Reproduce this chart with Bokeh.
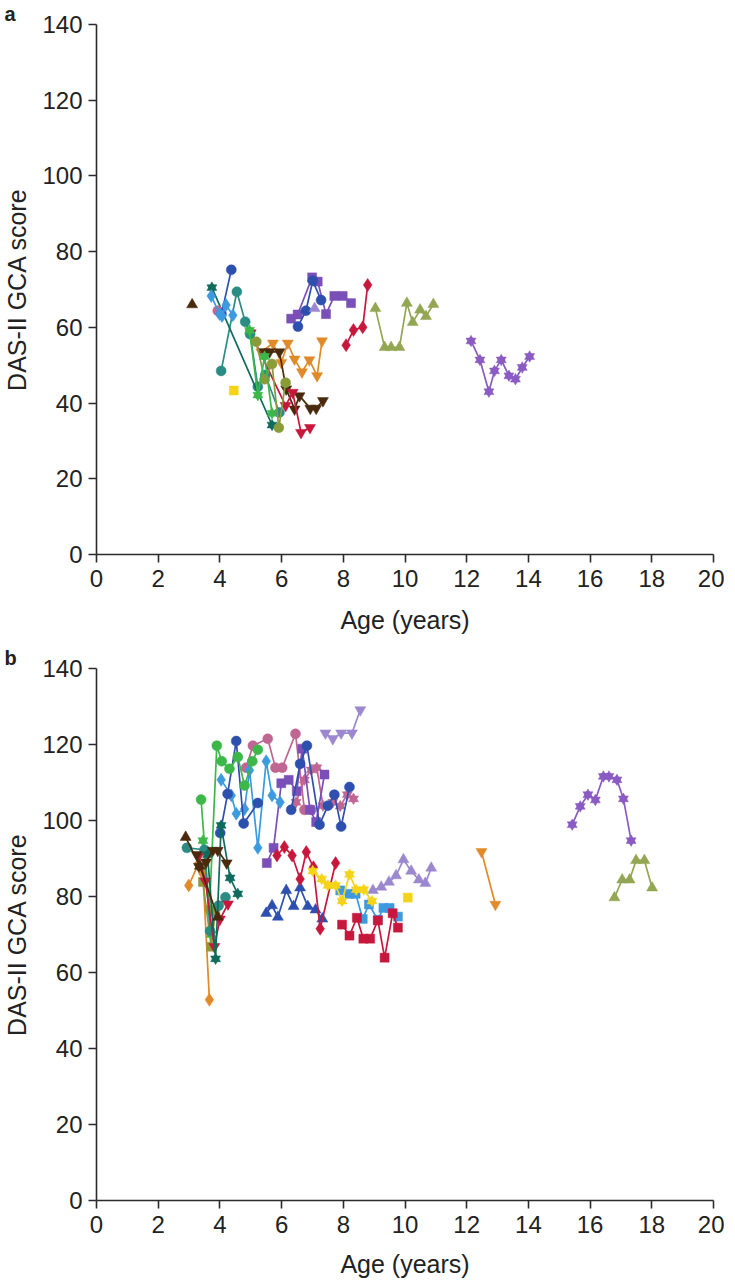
from bokeh.plotting import figure
from bokeh.layouts import column
from bokeh.models import Range1d, FixedTicker, Title
from bokeh.embed import file_html
from bokeh.resources import INLINE

# ---------------- colours ----------------
CRIMSON = "#c8173c"
PURPLE = "#7a4fb8"
LAVENDER = "#9c88cf"
DBLUE = "#2d4fae"
LBLUE = "#3d9ade"
TEAL = "#2b8c84"
DTEAL = "#0f6b5c"
GREEN = "#3cb84a"
OLIVE = "#8a9b3a"
OLIVE_TRI = "#93a653"
ORANGE = "#e08a2a"
BROWN = "#4a2a0c"
YELLOW = "#f4d418"
MAUVE = "#bf6792"
PSTAR = "#8a5bc2"

X_TICKS = [0, 2, 4, 6, 8, 10, 12, 14, 16, 18, 20]
Y_TICKS = [0, 20, 40, 60, 80, 100, 120, 140]
X_LABEL = "Age (years)"
Y_LABEL = "DAS-II GCA score"
PANEL_LETTERS = ["a", "b"]

# ---------------- panel a data ----------------
a_brown_tri_x = [3.1]
a_brown_tri_y = [66]
a_yellow_sq_x = [4.45]
a_yellow_sq_y = [43.3]
a_lblue_dia_x = [3.72, 3.99, 4.07, 4.2, 4.42]
a_lblue_dia_y = [68.3, 63.5, 63.0, 65.9, 63.2]
a_mauve_circ_x = [3.93]
a_mauve_circ_y = [64.4]
a_dblue_circ1_x = [4.05, 4.37]
a_dblue_circ1_y = [63.5, 75.2]
a_dblue_circ2_x = [6.53, 6.79, 7.01, 7.28]
a_dblue_circ2_y = [60.2, 64.4, 72.3, 67.2]
a_teal_circ_x = [4.04, 4.55, 4.82, 4.98, 5.23, 5.47, 5.93]
a_teal_circ_y = [48.5, 69.4, 61.5, 58.2, 44.3, 47.4, 37.5]
a_dteal_star_x = [3.74, 5.69]
a_dteal_star_y = [70.5, 34.2]
a_olive_circ_x = [5.18, 5.45, 5.69, 5.91, 6.13]
a_olive_circ_y = [56.2, 46.3, 50.3, 33.5, 45.4]
a_green_star_x = [4.96, 5.23, 5.45, 5.69]
a_green_star_y = [59.2, 42.1, 52.3, 37.3]
a_crimson_itri_x = [5.0, 6.13, 6.36, 6.63, 6.92]
a_crimson_itri_y = [58.5, 39.3, 42.8, 32.2, 33.5]
a_orange_itri_x = [5.34, 5.72, 5.99, 6.2, 6.42, 6.66, 6.9, 7.15, 7.31]
a_orange_itri_y = [53.5, 55.8, 50.7, 55.8, 51.6, 48.2, 51.4, 47.2, 56.4]
a_brown_itri_x = [5.45, 5.61, 5.93, 6.15, 6.42, 6.58, 6.93, 7.12, 7.34]
a_brown_itri_y = [53.5, 53.5, 53.5, 43.7, 38.4, 41.9, 38.6, 38.6, 40.6]
a_purple_sq_x = [6.31, 6.52, 6.99, 7.17, 7.44, 7.71, 7.98, 8.25]
a_purple_sq_y = [62.3, 63.4, 73.2, 72.1, 63.5, 68.3, 68.3, 66.4]
a_lav_tri_x = [7.07]
a_lav_tri_y = [65]
a_crimson_dia_x = [8.09, 8.33, 8.63, 8.79]
a_crimson_dia_y = [55.3, 59.3, 60.0, 71.2]
a_olive_tri_x = [9.04, 9.34, 9.55, 9.82, 10.06, 10.25, 10.49, 10.68, 10.92]
a_olive_tri_y = [65, 54.7, 54.7, 54.7, 66.4, 61.3, 64.6, 62.9, 66.1]
a_pstar_x = [12.14, 12.43, 12.72, 12.9, 13.12, 13.37, 13.58, 13.8, 14.04]
a_pstar_y = [56.4, 51.4, 43.0, 48.5, 51.4, 47.2, 46.3, 49.4, 52.3]

# ---------------- panel b data ----------------
b_brown_tri_x = [2.89, 3.35, 3.93]
b_brown_tri_y = [95.6, 88.0, 74.6]
b_teal_circ_x = [2.93, 3.5, 3.68, 3.96, 4.18]
b_teal_circ_y = [92.8, 92.3, 70.9, 77.6, 79.8]
b_orange_dia_x = [2.99, 3.3, 3.45, 3.66]
b_orange_dia_y = [82.9, 88.5, 86.0, 52.8]
b_brown_itri_x = [3.25, 3.32, 3.55, 3.77, 3.93, 4.22]
b_brown_itri_y = [91.0, 87.9, 89.0, 92.1, 92.1, 88.8]
b_crimson_itri_x = [3.3, 3.53, 3.82, 4.0, 4.26]
b_crimson_itri_y = [90.5, 84.0, 66.8, 74.0, 78.0]
b_green_star_x = [3.45, 3.72]
b_green_star_y = [94.7, 70.0]
b_olive_sq_x = [3.45, 3.72, 3.85]
b_olive_sq_y = [83.8, 66.8, 76.0]
b_green_circ_x = [3.39, 3.66, 3.9, 4.06, 4.31, 4.58, 4.8, 5.05, 5.23]
b_green_circ_y = [105.5, 76.5, 119.7, 115.6, 113.6, 116.7, 109.2, 115.6, 118.6]
b_dteal_star_x = [3.6, 3.86, 4.04, 4.33, 4.58]
b_dteal_star_y = [91.0, 63.6, 98.7, 84.9, 80.7]
b_dblue_circ1_x = [4.01, 4.25, 4.53, 4.77, 5.23]
b_dblue_circ1_y = [96.7, 107.0, 120.9, 99.2, 104.6]
b_dblue_circ2_x = [6.31, 6.6, 6.82, 7.23, 7.5, 7.71, 7.93, 8.2]
b_dblue_circ2_y = [102.8, 114.9, 119.7, 98.9, 103.9, 106.8, 98.4, 108.8]
b_lblue_dia_x = [4.04, 4.37, 4.53, 4.8, 4.96, 5.23, 5.5, 5.69, 5.95]
b_lblue_dia_y = [110.7, 106.6, 101.8, 103.0, 113.2, 92.8, 115.6, 106.6, 104.8]
b_mauve_circ_x = [4.85, 5.07, 5.55, 5.8, 6.02, 6.45, 6.74, 6.96]
b_mauve_circ_y = [113.9, 119.7, 121.5, 113.9, 113.9, 122.8, 102.8, 102.8]
b_mauve_star_x = [6.47, 6.74, 6.96, 7.14, 7.34, 7.66, 7.9, 8.13, 8.33]
b_mauve_star_y = [104.8, 110.7, 113.3, 113.9, 103.9, 104.8, 103.8, 106.8, 105.7]
b_purple_sq_x = [5.52, 5.74, 5.99, 6.23, 6.49, 6.67, 6.92, 7.12, 7.39]
b_purple_sq_y = [88.8, 92.8, 109.8, 110.7, 107.7, 118.9, 102.8, 99.6, 112.1]
b_lav_itri_x = [7.42, 7.66, 7.93, 8.28, 8.55]
b_lav_itri_y = [123.0, 121.5, 123.0, 123.0, 129.1]
b_crimson_dia_x = [5.85, 6.09, 6.34, 6.6, 6.8, 7.03, 7.25, 7.75]
b_crimson_dia_y = [90.8, 93.0, 90.8, 84.6, 91.7, 87.7, 71.5, 88.8]
b_dblue_tri_x = [5.5, 5.69, 5.88, 6.15, 6.39, 6.6, 6.85, 7.1, 7.32]
b_dblue_tri_y = [75.6, 77.6, 74.6, 81.6, 77.4, 82.3, 77.4, 76.5, 74.1]
b_yellow_star_x = [7.01, 7.3, 7.5, 7.75, 7.96, 8.2, 8.42, 8.66, 8.93]
b_yellow_star_y = [86.7, 84.6, 82.9, 82.9, 78.8, 85.8, 81.8, 81.8, 78.8]
b_lblue_sq_x = [7.9, 8.2, 8.4, 8.63, 8.83, 9.12, 9.3, 9.5, 9.77]
b_lblue_sq_y = [81.6, 80.7, 80.7, 74.1, 77.9, 73.9, 77.0, 77.0, 74.7]
b_crimson_sq_x = [7.96, 8.2, 8.44, 8.65, 8.87, 9.12, 9.34, 9.6, 9.77]
b_crimson_sq_y = [72.6, 69.7, 74.4, 68.9, 68.9, 73.7, 63.9, 75.6, 71.8]
b_lav_tri_x = [8.96, 9.23, 9.48, 9.71, 9.95, 10.2, 10.45, 10.66, 10.85]
b_lav_tri_y = [81.6, 82.5, 83.8, 85.5, 89.7, 86.7, 84.4, 83.5, 87.5]
b_yellow_sq_x = [10.09]
b_yellow_sq_y = [79.7]
b_orange_itri_x = [12.48, 12.93]
b_orange_itri_y = [91.8, 77.9]
b_pstar_x = [15.42, 15.68, 15.93, 16.17, 16.43, 16.61, 16.87, 17.08, 17.33]
b_pstar_y = [98.9, 103.7, 106.8, 105.4, 111.6, 111.6, 110.7, 105.7, 94.7]
b_olive_tri_x = [16.79, 17.04, 17.28, 17.49, 17.76, 18.01]
b_olive_tri_y = [79.7, 84.4, 84.4, 89.5, 89.5, 82.3]

SERIES_A = [
    (a_orange_itri_x, a_orange_itri_y, "inverted_triangle", ORANGE),
    (a_brown_itri_x, a_brown_itri_y, "inverted_triangle", BROWN),
    (a_crimson_itri_x, a_crimson_itri_y, "inverted_triangle", CRIMSON),
    (a_teal_circ_x, a_teal_circ_y, "circle", TEAL),
    (a_dteal_star_x, a_dteal_star_y, "hexstar", DTEAL),
    (a_olive_circ_x, a_olive_circ_y, "circle", OLIVE),
    (a_green_star_x, a_green_star_y, "hexstar", GREEN),
    (a_mauve_circ_x, a_mauve_circ_y, "circle", MAUVE),
    (a_dblue_circ1_x, a_dblue_circ1_y, "circle", DBLUE),
    (a_lblue_dia_x, a_lblue_dia_y, "diamond", LBLUE),
    (a_brown_tri_x, a_brown_tri_y, "triangle", BROWN),
    (a_yellow_sq_x, a_yellow_sq_y, "square", YELLOW),
    (a_purple_sq_x, a_purple_sq_y, "square", PURPLE),
    (a_dblue_circ2_x, a_dblue_circ2_y, "circle", DBLUE),
    (a_lav_tri_x, a_lav_tri_y, "triangle", LAVENDER),
    (a_crimson_dia_x, a_crimson_dia_y, "diamond", CRIMSON),
    (a_olive_tri_x, a_olive_tri_y, "triangle", OLIVE_TRI),
    (a_pstar_x, a_pstar_y, "hexstar", PSTAR),
]

SERIES_B = [
    (b_mauve_star_x, b_mauve_star_y, "hexstar", MAUVE),
    (b_mauve_circ_x, b_mauve_circ_y, "circle", MAUVE),
    (b_purple_sq_x, b_purple_sq_y, "square", PURPLE),
    (b_lblue_dia_x, b_lblue_dia_y, "diamond", LBLUE),
    (b_dblue_circ2_x, b_dblue_circ2_y, "circle", DBLUE),
    (b_dblue_circ1_x, b_dblue_circ1_y, "circle", DBLUE),
    (b_green_circ_x, b_green_circ_y, "circle", GREEN),
    (b_lav_itri_x, b_lav_itri_y, "inverted_triangle", LAVENDER),
    (b_orange_dia_x, b_orange_dia_y, "diamond", ORANGE),
    (b_olive_sq_x, b_olive_sq_y, "square", OLIVE),
    (b_green_star_x, b_green_star_y, "hexstar", GREEN),
    (b_teal_circ_x, b_teal_circ_y, "circle", TEAL),
    (b_crimson_itri_x, b_crimson_itri_y, "inverted_triangle", CRIMSON),
    (b_dteal_star_x, b_dteal_star_y, "hexstar", DTEAL),
    (b_brown_tri_x, b_brown_tri_y, "triangle", BROWN),
    (b_brown_itri_x, b_brown_itri_y, "inverted_triangle", BROWN),
    (b_dblue_tri_x, b_dblue_tri_y, "triangle", DBLUE),
    (b_crimson_dia_x, b_crimson_dia_y, "diamond", CRIMSON),
    (b_lav_tri_x, b_lav_tri_y, "triangle", LAVENDER),
    (b_lblue_sq_x, b_lblue_sq_y, "square", LBLUE),
    (b_crimson_sq_x, b_crimson_sq_y, "square", CRIMSON),
    (b_yellow_star_x, b_yellow_star_y, "hexstar", YELLOW),
    (b_yellow_sq_x, b_yellow_sq_y, "square", YELLOW),
    (b_orange_itri_x, b_orange_itri_y, "inverted_triangle", ORANGE),
    (b_pstar_x, b_pstar_y, "hexstar", PSTAR),
    (b_olive_tri_x, b_olive_tri_y, "triangle", OLIVE_TRI),
]

SIZES = {"circle": 10, "square": 9, "diamond": 13, "triangle": 11,
         "inverted_triangle": 11}

FONT = "Liberation Sans"
AXIS_COLOR = "#2b2b2b"
TEXT_COLOR = "#222222"


def draw_series(p, xs, ys, marker, color):
    if len(xs) > 1:
        p.line(xs, ys, line_color=color, line_width=1.7)
    if marker == "hexstar":
        p.scatter(xs, ys, marker="triangle", size=10, fill_color=color,
                  line_color=color, line_width=0.5)
        p.scatter(xs, ys, marker="inverted_triangle", size=10, fill_color=color,
                  line_color=color, line_width=0.5)
    else:
        p.scatter(xs, ys, marker=marker, size=SIZES[marker], fill_color=color,
                  line_color=color, line_width=0.5)


def make_panel(series, letter, border_top, frame_h, border_bottom,
               label_standoff):
    p = figure(output_backend="svg", toolbar_location=None,
               frame_width=617, frame_height=frame_h,
               min_border_left=94, min_border_right=11,
               min_border_top=border_top, min_border_bottom=border_bottom,
               x_range=Range1d(0, 20), y_range=Range1d(0, 140))
    p.outline_line_color = None
    p.xgrid.visible = False
    p.ygrid.visible = False
    p.background_fill_color = "white"
    p.border_fill_color = "white"

    p.xaxis.ticker = FixedTicker(ticks=X_TICKS)
    p.yaxis.ticker = FixedTicker(ticks=Y_TICKS)
    p.xaxis.axis_label = X_LABEL
    p.yaxis.axis_label = Y_LABEL
    for ax in (p.xaxis, p.yaxis):
        ax.axis_line_color = AXIS_COLOR
        ax.axis_line_width = 1.6
        ax.major_tick_line_color = AXIS_COLOR
        ax.major_tick_line_width = 1.6
        ax.major_tick_out = 8
        ax.major_tick_in = 0
        ax.minor_tick_line_color = None
        ax.major_label_text_font = FONT
        ax.major_label_text_font_size = "24px"
        ax.major_label_text_color = TEXT_COLOR
        ax.axis_label_text_font = FONT
        ax.axis_label_text_font_size = "25px"
        ax.axis_label_text_font_style = "normal"
        ax.axis_label_text_color = TEXT_COLOR
    p.xaxis.major_label_standoff = 7
    p.xaxis.axis_label_standoff = label_standoff
    p.yaxis.major_label_standoff = 6
    p.yaxis.axis_label_standoff = 8

    for xs, ys, marker, color in series:
        draw_series(p, xs, ys, marker, color)

    p.add_layout(Title(text=letter, align="left", offset=-92, standoff=0,
                       text_font=FONT, text_font_size="20px",
                       text_font_style="bold", text_color=TEXT_COLOR,
                       vertical_align="bottom"), "above")
    return p


pa = make_panel(SERIES_A, PANEL_LETTERS[0], 21, 530, 88, 16)
pb = make_panel(SERIES_B, PANEL_LETTERS[1], 26, 532, 78, 14)

layout = column(pa, pb, spacing=0)
open("out.html", "w").write(file_html(layout, INLINE))
